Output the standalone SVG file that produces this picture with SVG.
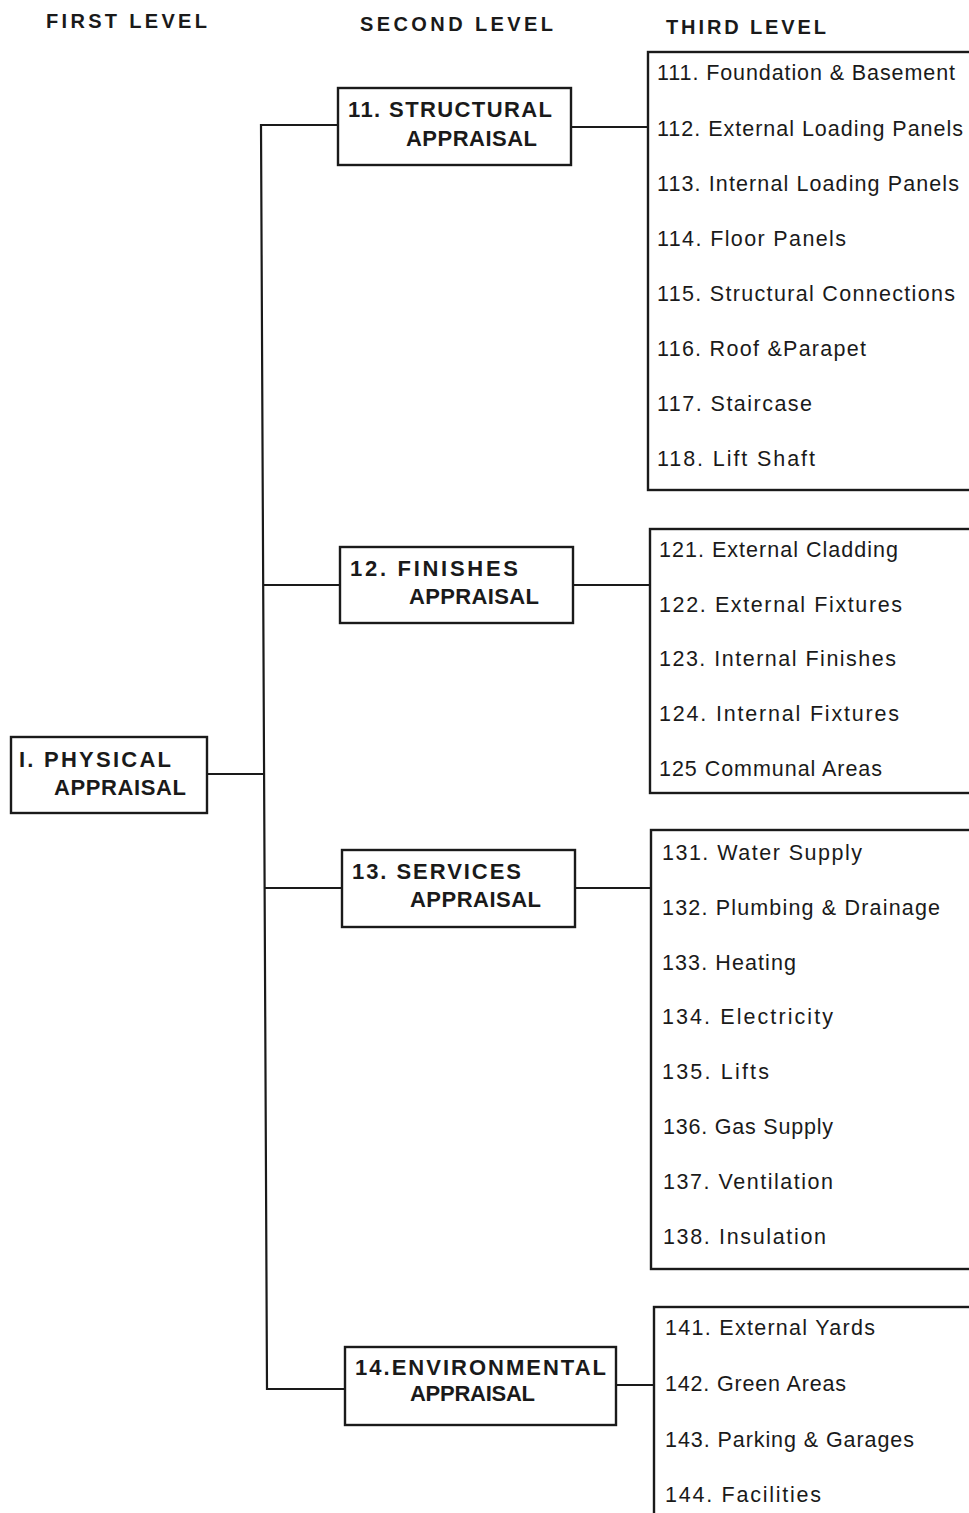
<svg xmlns="http://www.w3.org/2000/svg" width="969" height="1513" viewBox="0 0 969 1513">
  <style>
    .box { fill: #fff; stroke: #1a1a1a; stroke-width: 2.4; }
    .wire { fill: none; stroke: #1a1a1a; stroke-width: 2.2; }
    .hdr { font-family: "Liberation Sans", Arial, sans-serif; font-weight: bold; font-size: 20px; fill: #1a1a1a; }
    .lbl { font-family: "Liberation Sans", Arial, sans-serif; font-weight: bold; font-size: 22px; fill: #1a1a1a; }
    .item { font-family: "Liberation Sans", Arial, sans-serif; font-size: 21.5px; fill: #1a1a1a; }
  </style>
  <rect width="969" height="1513" fill="#fff"/>

  <!-- column headings -->
  <g id="headings">
    <text class="hdr" x="46" y="28" textLength="161" lengthAdjust="spacing">FIRST  LEVEL</text>
    <text class="hdr" x="360" y="31" textLength="193" lengthAdjust="spacing">SECOND  LEVEL</text>
    <text class="hdr" x="666" y="34" textLength="160" lengthAdjust="spacing">THIRD  LEVEL</text>
  </g>

  <!-- connectors -->
  <g id="connectors">
    <path class="wire" d="M207 774 H264"/>
    <path class="wire" d="M338 125 H261 L267 1389 H345"/>
    <path class="wire" d="M263 585 H340"/>
    <path class="wire" d="M265 888 H342"/>
    <path class="wire" d="M571 127 H648"/>
    <path class="wire" d="M573 585 H650"/>
    <path class="wire" d="M575 888 H651"/>
    <path class="wire" d="M616 1385 H654"/>
  </g>

  <!-- first level -->
  <g id="n1">
    <rect class="box" x="11" y="737" width="196" height="76"/>
    <text class="lbl" x="19" y="767" textLength="152" lengthAdjust="spacing">I.  PHYSICAL</text>
    <text class="lbl" x="54" y="795" textLength="132" lengthAdjust="spacing">APPRAISAL</text>
  </g>

  <!-- second level -->
  <g id="n11">
    <rect class="box" x="338" y="88" width="233" height="77"/>
    <text class="lbl" x="348" y="117" textLength="204" lengthAdjust="spacing">11.  STRUCTURAL</text>
    <text class="lbl" x="406" y="146" textLength="131" lengthAdjust="spacing">APPRAISAL</text>
  </g>
  <g id="n12">
    <rect class="box" x="340" y="547" width="233" height="76"/>
    <text class="lbl" x="350" y="576" textLength="168" lengthAdjust="spacing">12.  FINISHES</text>
    <text class="lbl" x="409" y="604" textLength="130" lengthAdjust="spacing">APPRAISAL</text>
  </g>
  <g id="n13">
    <rect class="box" x="342" y="850" width="233" height="77"/>
    <text class="lbl" x="352" y="879" textLength="169" lengthAdjust="spacing">13.  SERVICES</text>
    <text class="lbl" x="410" y="907" textLength="131" lengthAdjust="spacing">APPRAISAL</text>
  </g>
  <g id="n14">
    <rect class="box" x="345" y="1347" width="271" height="78"/>
    <text class="lbl" x="355" y="1375" textLength="251" lengthAdjust="spacing">14.ENVIRONMENTAL</text>
    <text class="lbl" x="410" y="1401" textLength="125" lengthAdjust="spacing">APPRAISAL</text>
  </g>

  <!-- third level -->
  <g id="n11x">
    <rect class="box" x="648" y="52" width="340" height="438"/>
    <text class="item" x="657" y="80" textLength="298" lengthAdjust="spacing">111. Foundation &amp; Basement</text>
    <text class="item" x="657" y="136" textLength="306" lengthAdjust="spacing">112. External Loading Panels</text>
    <text class="item" x="657" y="191" textLength="302" lengthAdjust="spacing">113. Internal Loading Panels</text>
    <text class="item" x="657" y="246" textLength="189" lengthAdjust="spacing">114. Floor Panels</text>
    <text class="item" x="657" y="301" textLength="298" lengthAdjust="spacing">115. Structural Connections</text>
    <text class="item" x="657" y="356" textLength="209" lengthAdjust="spacing">116. Roof &amp;Parapet</text>
    <text class="item" x="657" y="411" textLength="155" lengthAdjust="spacing">117.  Staircase</text>
    <text class="item" x="657" y="466" textLength="158" lengthAdjust="spacing">118.  Lift Shaft</text>
  </g>
  <g id="n12x">
    <rect class="box" x="650" y="529" width="340" height="264"/>
    <text class="item" x="659" y="557" textLength="239" lengthAdjust="spacing">121. External Cladding</text>
    <text class="item" x="659" y="612" textLength="243" lengthAdjust="spacing">122.  External  Fixtures</text>
    <text class="item" x="659" y="666" textLength="237" lengthAdjust="spacing">123.  Internal  Finishes</text>
    <text class="item" x="659" y="721" textLength="240" lengthAdjust="spacing">124.  Internal  Fixtures</text>
    <text class="item" x="659" y="776" textLength="223" lengthAdjust="spacing">125 Communal Areas</text>
  </g>
  <g id="n13x">
    <rect class="box" x="651" y="830" width="340" height="439"/>
    <text class="item" x="662" y="860" textLength="200" lengthAdjust="spacing">131.  Water  Supply</text>
    <text class="item" x="662" y="915" textLength="278" lengthAdjust="spacing">132.  Plumbing  &amp;  Drainage</text>
    <text class="item" x="662" y="970" textLength="134" lengthAdjust="spacing">133.  Heating</text>
    <text class="item" x="662" y="1024" textLength="171" lengthAdjust="spacing">134.   Electricity</text>
    <text class="item" x="662" y="1079" textLength="107" lengthAdjust="spacing">135.   Lifts</text>
    <text class="item" x="663" y="1134" textLength="170" lengthAdjust="spacing">136. Gas Supply</text>
    <text class="item" x="663" y="1189" textLength="170" lengthAdjust="spacing">137.  Ventilation</text>
    <text class="item" x="663" y="1244" textLength="163" lengthAdjust="spacing">138.  Insulation</text>
  </g>
  <g id="n14x">
    <rect class="box" x="654" y="1307" width="340" height="230"/>
    <text class="item" x="665" y="1335" textLength="210" lengthAdjust="spacing">141.  External  Yards</text>
    <text class="item" x="665" y="1391" textLength="181" lengthAdjust="spacing">142. Green Areas</text>
    <text class="item" x="665" y="1447" textLength="249" lengthAdjust="spacing">143.  Parking  &amp;  Garages</text>
    <text class="item" x="665" y="1502" textLength="156" lengthAdjust="spacing">144.  Facilities</text>
  </g>
</svg>
